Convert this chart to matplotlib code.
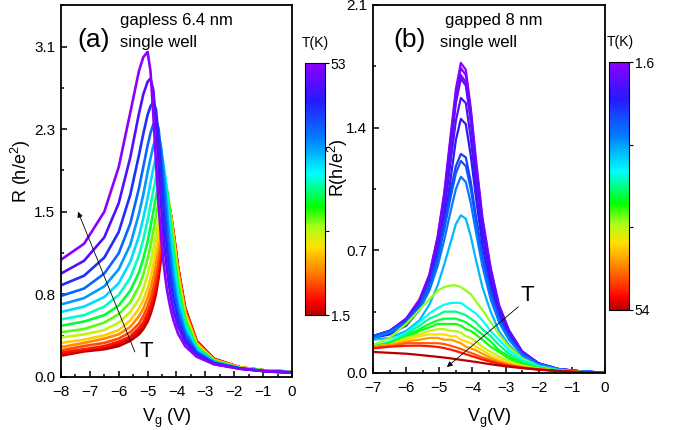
import matplotlib
matplotlib.use("Agg")
import matplotlib.pyplot as plt
from matplotlib.cm import ScalarMappable
from matplotlib.colors import LinearSegmentedColormap, Normalize
from matplotlib.ticker import FixedLocator, MultipleLocator

plt.rcParams["font.family"] = ["Liberation Sans", "DejaVu Sans"]
plt.rcParams["mathtext.fontset"] = "custom"
plt.rcParams["mathtext.rm"] = "Liberation Sans"
plt.rcParams["mathtext.it"] = "Liberation Sans:italic"

# (a) gapless 6.4 nm single well
vg_a = [-8.0, -7.2, -6.5, -6.0, -5.6, -5.3, -5.15, -5.0, -4.9, -4.8, -4.71, -4.62, -4.53, -4.45,
        -4.39, -4.33, -4.27, -4.22, -4.16, -4.1, -3.95, -3.7, -3.3, -2.7, -1.8, -0.9, 0.0]
temps_a = [1.5, 3.05, 5.1, 7.7, 10.8, 14.4, 18.0, 21.6, 25.2, 28.8,
           32.4, 36.0, 39.6, 43.7, 48.4, 53.0]
r_a = [
    [0.20, 0.24, 0.26, 0.29, 0.34, 0.40, 0.45, 0.52, 0.59, 0.68, 0.78, 0.93, 1.12, 1.34, 1.51, 1.63, 1.61, 1.56, 1.46, 1.35, 1.04, 0.65, 0.34, 0.17, 0.09, 0.06, 0.05],
    [0.21, 0.25, 0.28, 0.31, 0.36, 0.43, 0.48, 0.55, 0.62, 0.72, 0.83, 0.97, 1.16, 1.37, 1.53, 1.63, 1.61, 1.56, 1.46, 1.35, 1.03, 0.64, 0.33, 0.17, 0.09, 0.06, 0.05],
    [0.23, 0.26, 0.29, 0.33, 0.38, 0.46, 0.51, 0.60, 0.67, 0.77, 0.88, 1.03, 1.22, 1.41, 1.55, 1.64, 1.61, 1.56, 1.46, 1.34, 1.03, 0.64, 0.33, 0.17, 0.09, 0.06, 0.05],
    [0.25, 0.29, 0.32, 0.36, 0.42, 0.50, 0.57, 0.66, 0.74, 0.84, 0.96, 1.11, 1.30, 1.47, 1.59, 1.65, 1.62, 1.56, 1.46, 1.33, 1.02, 0.63, 0.32, 0.16, 0.09, 0.06, 0.05],
    [0.28, 0.32, 0.36, 0.40, 0.47, 0.57, 0.64, 0.74, 0.83, 0.94, 1.06, 1.22, 1.39, 1.55, 1.65, 1.67, 1.63, 1.56, 1.45, 1.32, 1.00, 0.61, 0.32, 0.16, 0.09, 0.06, 0.05],
    [0.32, 0.35, 0.39, 0.44, 0.53, 0.64, 0.72, 0.83, 0.93, 1.06, 1.19, 1.35, 1.51, 1.65, 1.71, 1.71, 1.65, 1.56, 1.44, 1.30, 0.97, 0.59, 0.31, 0.16, 0.09, 0.06, 0.05],
    [0.37, 0.40, 0.44, 0.51, 0.61, 0.73, 0.83, 0.96, 1.07, 1.20, 1.34, 1.49, 1.64, 1.74, 1.77, 1.74, 1.65, 1.55, 1.41, 1.27, 0.94, 0.57, 0.30, 0.15, 0.085, 0.06, 0.045],
    [0.42, 0.45, 0.51, 0.59, 0.70, 0.85, 0.96, 1.11, 1.23, 1.37, 1.51, 1.65, 1.78, 1.84, 1.83, 1.76, 1.65, 1.53, 1.38, 1.23, 0.90, 0.55, 0.29, 0.15, 0.084, 0.058, 0.045],
    [0.48, 0.52, 0.58, 0.67, 0.81, 0.98, 1.11, 1.27, 1.41, 1.55, 1.69, 1.81, 1.91, 1.93, 1.87, 1.76, 1.62, 1.48, 1.32, 1.17, 0.85, 0.52, 0.28, 0.15, 0.083, 0.058, 0.045],
    [0.54, 0.58, 0.66, 0.77, 0.93, 1.14, 1.29, 1.47, 1.61, 1.75, 1.87, 1.97, 2.03, 1.98, 1.88, 1.73, 1.56, 1.42, 1.25, 1.10, 0.80, 0.49, 0.27, 0.14, 0.08, 0.057, 0.044],
    [0.61, 0.66, 0.75, 0.88, 1.08, 1.32, 1.49, 1.68, 1.82, 1.96, 2.06, 2.13, 2.12, 1.99, 1.84, 1.65, 1.47, 1.32, 1.16, 1.01, 0.74, 0.46, 0.26, 0.14, 0.08, 0.056, 0.043],
    [0.68, 0.74, 0.85, 1.01, 1.24, 1.53, 1.71, 1.92, 2.05, 2.17, 2.24, 2.27, 2.15, 1.94, 1.74, 1.54, 1.35, 1.21, 1.06, 0.92, 0.67, 0.43, 0.24, 0.14, 0.08, 0.055, 0.042],
    [0.76, 0.83, 0.97, 1.16, 1.44, 1.77, 1.97, 2.17, 2.29, 2.37, 2.41, 2.33, 2.09, 1.81, 1.60, 1.40, 1.22, 1.09, 0.95, 0.83, 0.61, 0.40, 0.23, 0.13, 0.08, 0.054, 0.042],
    [0.86, 0.95, 1.12, 1.36, 1.71, 2.08, 2.28, 2.46, 2.54, 2.58, 2.51, 2.26, 1.91, 1.60, 1.39, 1.21, 1.05, 0.94, 0.83, 0.73, 0.55, 0.36, 0.22, 0.13, 0.08, 0.053, 0.041],
    [0.97, 1.09, 1.31, 1.63, 2.06, 2.47, 2.65, 2.77, 2.80, 2.69, 2.38, 1.98, 1.61, 1.33, 1.16, 1.01, 0.88, 0.79, 0.70, 0.62, 0.48, 0.33, 0.20, 0.12, 0.078, 0.052, 0.040],
    [1.10, 1.25, 1.55, 1.97, 2.48, 2.87, 3.00, 3.05, 2.87, 2.45, 2.01, 1.62, 1.30, 1.08, 0.94, 0.82, 0.73, 0.66, 0.59, 0.53, 0.41, 0.29, 0.19, 0.12, 0.077, 0.055, 0.045],
]
yticks_a = [0.0, 0.775, 1.55, 2.325, 3.1]
ylabels_a = ["0.0", "0.8", "1.5", "2.3", "3.1"]

# (b) gapped 8 nm single well
vg_b = [-7.0, -6.5, -6.0, -5.6, -5.3, -5.05, -4.85, -4.65, -4.5, -4.35, -4.2,
        -4.05, -3.9, -3.7, -3.45, -3.2, -2.9, -2.5, -2.0, -1.4, -0.7, 0.0]
temps_b = [1.6, 2.6, 3.7, 4.7, 6.8, 8.9, 12.1, 14.2, 16.8, 20.5,
           35.1, 24.7, 27.8, 29.9, 32.0, 36.7, 39.9, 43.5, 46.7, 50.3, 54.0]
r_b = [
    [0.21, 0.24, 0.31, 0.42, 0.56, 0.78, 1.03, 1.37, 1.62, 1.77, 1.73, 1.51, 1.23, 0.89, 0.60, 0.39, 0.245, 0.124, 0.055, 0.023, 0.009, 0.002],
    [0.21, 0.24, 0.31, 0.41, 0.56, 0.77, 1.02, 1.35, 1.59, 1.74, 1.70, 1.49, 1.21, 0.87, 0.59, 0.38, 0.24, 0.12, 0.055, 0.022, 0.009, 0.002],
    [0.21, 0.24, 0.30, 0.40, 0.55, 0.75, 1.00, 1.32, 1.56, 1.70, 1.66, 1.45, 1.18, 0.86, 0.58, 0.38, 0.24, 0.12, 0.054, 0.022, 0.008, 0.002],
    [0.21, 0.24, 0.30, 0.40, 0.54, 0.74, 0.98, 1.30, 1.54, 1.68, 1.64, 1.44, 1.17, 0.85, 0.57, 0.37, 0.23, 0.12, 0.053, 0.022, 0.008, 0.002],
    [0.20, 0.23, 0.29, 0.38, 0.51, 0.70, 0.92, 1.22, 1.44, 1.57, 1.54, 1.34, 1.09, 0.79, 0.54, 0.35, 0.22, 0.11, 0.051, 0.021, 0.008, 0.002],
    [0.20, 0.22, 0.27, 0.36, 0.48, 0.65, 0.85, 1.12, 1.33, 1.45, 1.42, 1.24, 1.01, 0.73, 0.50, 0.33, 0.21, 0.11, 0.049, 0.021, 0.008, 0.002],
    [0.21, 0.24, 0.30, 0.39, 0.51, 0.67, 0.85, 1.05, 1.18, 1.25, 1.23, 1.09, 0.90, 0.67, 0.47, 0.32, 0.21, 0.11, 0.052, 0.022, 0.009, 0.002],
    [0.21, 0.24, 0.29, 0.38, 0.50, 0.65, 0.82, 1.01, 1.14, 1.21, 1.18, 1.05, 0.87, 0.65, 0.45, 0.31, 0.20, 0.11, 0.051, 0.022, 0.009, 0.002],
    [0.20, 0.23, 0.28, 0.36, 0.47, 0.61, 0.76, 0.93, 1.05, 1.12, 1.09, 0.97, 0.81, 0.61, 0.42, 0.29, 0.19, 0.10, 0.049, 0.021, 0.008, 0.002],
    [0.19, 0.20, 0.24, 0.30, 0.39, 0.50, 0.62, 0.75, 0.85, 0.90, 0.88, 0.78, 0.65, 0.49, 0.35, 0.24, 0.16, 0.087, 0.043, 0.019, 0.008, 0.002],
    [0.16, 0.20, 0.28, 0.36, 0.42, 0.47, 0.49, 0.50, 0.50, 0.49, 0.47, 0.45, 0.41, 0.36, 0.29, 0.22, 0.15, 0.083, 0.037, 0.015, 0.005, 0.002],
    [0.15, 0.18, 0.23, 0.29, 0.34, 0.37, 0.39, 0.40, 0.40, 0.40, 0.38, 0.36, 0.34, 0.30, 0.24, 0.19, 0.13, 0.074, 0.035, 0.015, 0.005, 0.002],
    [0.15, 0.17, 0.22, 0.27, 0.31, 0.33, 0.35, 0.35, 0.35, 0.34, 0.33, 0.31, 0.29, 0.25, 0.21, 0.16, 0.11, 0.063, 0.031, 0.014, 0.005, 0.002],
    [0.15, 0.17, 0.21, 0.25, 0.28, 0.30, 0.31, 0.31, 0.31, 0.30, 0.29, 0.27, 0.25, 0.22, 0.18, 0.13, 0.094, 0.055, 0.028, 0.014, 0.005, 0.002],
    [0.15, 0.17, 0.20, 0.24, 0.26, 0.28, 0.28, 0.28, 0.28, 0.27, 0.25, 0.24, 0.22, 0.19, 0.15, 0.12, 0.082, 0.049, 0.026, 0.013, 0.005, 0.002],
    [0.15, 0.16, 0.20, 0.22, 0.24, 0.25, 0.25, 0.24, 0.24, 0.23, 0.21, 0.20, 0.18, 0.15, 0.12, 0.094, 0.067, 0.042, 0.024, 0.013, 0.005, 0.002],
    [0.15, 0.16, 0.19, 0.21, 0.22, 0.22, 0.22, 0.21, 0.21, 0.19, 0.18, 0.17, 0.15, 0.13, 0.10, 0.079, 0.057, 0.037, 0.022, 0.012, 0.005, 0.002],
    [0.15, 0.16, 0.18, 0.19, 0.20, 0.20, 0.19, 0.19, 0.18, 0.17, 0.15, 0.14, 0.13, 0.11, 0.086, 0.067, 0.050, 0.034, 0.021, 0.012, 0.005, 0.002],
    [0.145, 0.15, 0.17, 0.17, 0.17, 0.17, 0.165, 0.155, 0.147, 0.137, 0.126, 0.115, 0.104, 0.089, 0.073, 0.058, 0.044, 0.031, 0.021, 0.012, 0.005, 0.002],
    [0.14, 0.15, 0.155, 0.156, 0.153, 0.149, 0.142, 0.133, 0.125, 0.116, 0.107, 0.098, 0.089, 0.077, 0.064, 0.052, 0.041, 0.030, 0.020, 0.012, 0.005, 0.002],
    [0.12, 0.115, 0.11, 0.103, 0.097, 0.092, 0.088, 0.083, 0.079, 0.075, 0.071, 0.067, 0.063, 0.057, 0.05, 0.043, 0.036, 0.028, 0.019, 0.011, 0.005, 0.001],
]
yticks_b = [0.0, 0.7, 1.4, 2.1]

# Origin-style rainbow: dark red -> red -> yellow -> green -> cyan -> blue -> violet
cmap = LinearSegmentedColormap.from_list("origin_rainbow", [
    (0.00, (0.72, 0.0, 0.0)),
    (0.05, (1.0, 0.0, 0.0)),
    (0.17, (1.0, 0.5, 0.0)),
    (0.27, (1.0, 0.88, 0.0)),
    (0.35, (0.65, 1.0, 0.1)),
    (0.43, (0.0, 1.0, 0.0)),
    (0.56, (0.0, 1.0, 1.0)),
    (0.70, (0.0, 0.5, 1.0)),
    (0.85, (0.15, 0.1, 1.0)),
    (1.00, (0.55, 0.0, 1.0)),
])
cmap_b = cmap.reversed()
norm_a = Normalize(1.5, 53)
norm_b = Normalize(1.6, 54)

fig = plt.figure(figsize=(6.76, 4.30), dpi=100)
ax1 = fig.add_axes([0.0902, 0.1233, 0.3417, 0.8651])
ax2 = fig.add_axes([0.5518, 0.1326, 0.3432, 0.8558])
cax1 = fig.add_axes([0.4512, 0.2674, 0.0296, 0.586])
cax2 = fig.add_axes([0.9009, 0.2791, 0.0296, 0.5767])

for T, r in zip(temps_a, r_a):
    ax1.plot(vg_a, r, color=cmap(norm_a(T)), lw=1.9, solid_joinstyle="round")
for T, r in zip(temps_b, r_b):
    ax2.plot(vg_b, r, color=cmap_b(norm_b(T)), lw=1.6, solid_joinstyle="round")

for ax in (ax1, ax2):
    for s in ax.spines.values():
        s.set_linewidth(1.3)
    ax.xaxis.set_major_locator(MultipleLocator(1))
    ax.xaxis.set_minor_locator(MultipleLocator(0.5))
    ax.tick_params(which="both", direction="in", width=1.1, labelsize=11)
    ax.tick_params(which="major", length=4)
    ax.tick_params(which="minor", length=2.5)
    ax.tick_params(axis="x", pad=6)
    ax.tick_params(axis="y", pad=4)

ax1.set_xlim(-8, 0)
ax1.set_ylim(0, 3.49)
ax1.yaxis.set_major_locator(FixedLocator(yticks_a))
ax1.set_yticklabels(ylabels_a)
ax1.yaxis.set_minor_locator(MultipleLocator(0.3875))
ax1.set_ylabel(r"R (h/e$^\mathrm{2}$)", fontsize=13)
ax1.yaxis.set_label_coords(-0.121, 0.554)
ax1.set_xlabel(r"V$_\mathrm{g}$ (V)", fontsize=13)
ax1.xaxis.set_label_coords(0.46, -0.08)

ax2.set_xlim(-7, 0)
ax2.set_ylim(0, 2.1)
ax2.set_yticks(yticks_b)
ax2.yaxis.set_minor_locator(MultipleLocator(0.35))
ax2.set_ylabel(r"R(h/e$^\mathrm{2}$)", fontsize=13)
ax2.yaxis.set_label_coords(-0.099, 0.557)
ax2.set_xlabel(r"V$_\mathrm{g}$(V)", fontsize=13)
ax2.xaxis.set_label_coords(0.5, -0.092)

ax1.text(0.069, 0.907, "(a)", transform=ax1.transAxes, fontsize=19, va="center")
ax1.text(0.255, 0.957, "gapless 6.4 nm", transform=ax1.transAxes, fontsize=12, va="center")
ax1.text(0.255, 0.898, "single well", transform=ax1.transAxes, fontsize=12, va="center")
ax2.text(0.086, 0.906, "(b)", transform=ax2.transAxes, fontsize=19, va="center")
ax2.text(0.31, 0.957, "gapped 8 nm", transform=ax2.transAxes, fontsize=12, va="center")
ax2.text(0.289, 0.897, "single well", transform=ax2.transAxes, fontsize=12, va="center")

arrow = dict(arrowstyle="-|>", color="black", lw=0.6, mutation_scale=8, shrinkA=0, shrinkB=0)
ax1.annotate("", xy=(-7.41, 1.55), xytext=(-5.44, 0.235), arrowprops=arrow)
ax1.text(-5.06, 0.24, "T", fontsize=16, ha="center", va="center")
ax2.annotate("", xy=(-4.77, 0.034), xytext=(-2.62, 0.377), arrowprops=arrow)
ax2.text(-2.35, 0.445, "T", fontsize=16, ha="center", va="center")

cb1 = fig.colorbar(ScalarMappable(norm=norm_a, cmap=cmap), cax=cax1)
cb1.set_ticks([1.5, 18.67, 35.83, 53])
cb1.set_ticklabels(["1.5", "", "", "53"])
cb2 = fig.colorbar(ScalarMappable(norm=norm_b, cmap=cmap_b), cax=cax2)
cax2.invert_yaxis()
cb2.set_ticks([1.6, 19.07, 36.53, 54])
cb2.set_ticklabels(["1.6", "", "", "54"])
for cb in (cb1, cb2):
    cb.outline.set_linewidth(0.8)
    cb.ax.tick_params(direction="out", length=3, width=0.8, labelsize=10, pad=1)
    cb.ax.minorticks_off()

fig.text(0.4660, 0.900, "T(K)", fontsize=10, ha="center", va="center")
fig.text(0.9180, 0.902, "T(K)", fontsize=10, ha="center", va="center")

fig.savefig("out.png", dpi=100)
